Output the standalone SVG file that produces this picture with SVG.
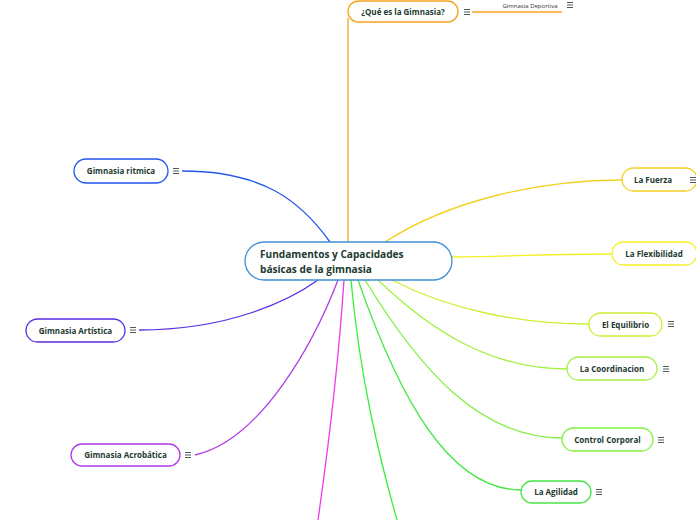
<svg xmlns="http://www.w3.org/2000/svg" width="696" height="520" viewBox="0 0 696 520">
<style>
.n{fill:#fff;stroke-width:1.3}
.t{font-family:"Open Sans","Noto Sans",sans-serif;font-weight:bold;font-size:8px;fill:#1c3a2e}
.c{fill:none;stroke-width:1.3}
.m{stroke:#3a4a44;stroke-width:0.9;fill:none}
</style>
<defs>
<path id="menu" d="M0,-2.5h6M0,0h6M0,2.5h6"/>
</defs>
<rect width="696" height="520" fill="#fff"/>
<g id="connectors">
<path class="c" stroke="#f7a21b" d="M348,242 L348,18"/>
<path class="c" stroke="#f7a21b" d="M472,12 L562,12"/>
<path class="c" stroke="#2255ee" d="M182,171 C262,171 300,200 330,242"/>
<path class="c" stroke="#5a2ee6" d="M139,330 C230,330 290,300 318,280"/>
<path class="c" stroke="#b23ae8" d="M195,455 C262,440 315,340 338,280"/>
<path class="c" stroke="#f03ae8" d="M344,280 C338,370 328,450 318,520"/>
<path class="c" stroke="#38f038" d="M351,280 C360,380 380,460 397,520"/>
<path class="c" stroke="#f5d020" d="M385,242 C450,200 540,180 622,180"/>
<path class="c" stroke="#f2f020" d="M452,257 C520,256 560,254 612,254"/>
<path class="c" stroke="#c8f030" d="M392,280 C450,310 520,324 589,324"/>
<path class="c" stroke="#a4f040" d="M378,280 C430,330 490,369 567,369"/>
<path class="c" stroke="#80f040" d="M365,280 C420,370 480,438 562,438"/>
<path class="c" stroke="#48e848" d="M358,280 C400,400 450,490 521,490"/>
</g>
<g id="central">
<rect x="245" y="242" width="207" height="38" rx="19" fill="#fff" stroke="#3d8fd6" stroke-width="1.3"/>
<text class="t" style="font-size:10.1px" x="260" y="258">Fundamentos y Capacidades</text>
<text class="t" style="font-size:10.1px" x="260" y="273">básicas de la gimnasia</text>
</g>
<g id="que-es">
<rect class="n" x="348" y="1" width="110" height="21" rx="10.5" stroke="#f7a21b"/>
<text class="t" x="403" y="14.5" text-anchor="middle">¿Qué es la Gimnasia?</text>
<use href="#menu" class="m" x="464" y="12"/>
</g>
<g id="deportiva">
<text x="530" y="7.5" text-anchor="middle" style="font-family:'Open Sans','Noto Sans',sans-serif;font-size:6px;fill:#333">Gimnasia Deportiva</text>
<use href="#menu" class="m" x="567" y="5"/>
</g>
<g id="ritmica">
<rect class="n" x="74" y="159" width="94" height="24" rx="12" stroke="#2255ee"/>
<text class="t" x="121" y="174" text-anchor="middle">Gimnasia ritmica</text>
<use href="#menu" class="m" x="173" y="171"/>
</g>
<g id="artistica">
<rect class="n" x="26" y="319" width="99" height="23" rx="11.5" stroke="#5a2ee6"/>
<text class="t" x="75.5" y="333.5" text-anchor="middle">Gimnasia Artística</text>
<use href="#menu" class="m" x="130" y="330"/>
</g>
<g id="acrobatica">
<rect class="n" x="71" y="444" width="109" height="22" rx="11" stroke="#b23ae8"/>
<text class="t" x="125.5" y="458" text-anchor="middle">Gimnasia Acrobática</text>
<use href="#menu" class="m" x="185" y="455"/>
</g>
<g id="fuerza">
<rect class="n" x="622" y="168" width="75" height="23" rx="11.5" stroke="#f5d020"/>
<text class="t" x="653" y="182.5" text-anchor="middle">La Fuerza</text>
<use href="#menu" class="m" x="690" y="180"/>
</g>
<g id="flexibilidad">
<rect class="n" x="612" y="242" width="85" height="23" rx="11.5" stroke="#f2f020"/>
<text class="t" x="654" y="256.5" text-anchor="middle">La Flexibilidad</text>
</g>
<g id="equilibrio">
<rect class="n" x="589" y="313" width="73" height="23" rx="11.5" stroke="#c8f030"/>
<text class="t" x="625.5" y="327.5" text-anchor="middle">El Equilibrio</text>
<use href="#menu" class="m" x="668" y="324"/>
</g>
<g id="coordinacion">
<rect class="n" x="567" y="357" width="90" height="23" rx="11.5" stroke="#a4f040"/>
<text class="t" x="612" y="371.5" text-anchor="middle">La Coordinacion</text>
<use href="#menu" class="m" x="663" y="369"/>
</g>
<g id="control">
<rect class="n" x="562" y="428" width="91" height="23" rx="11.5" stroke="#80f040"/>
<text class="t" x="607.5" y="442.5" text-anchor="middle">Control Corporal</text>
<use href="#menu" class="m" x="658" y="440"/>
</g>
<g id="agilidad">
<rect class="n" x="521" y="481" width="70" height="22" rx="11" stroke="#48e848"/>
<text class="t" x="556" y="495" text-anchor="middle">La Agilidad</text>
<use href="#menu" class="m" x="596" y="492"/>
</g>
</svg>
